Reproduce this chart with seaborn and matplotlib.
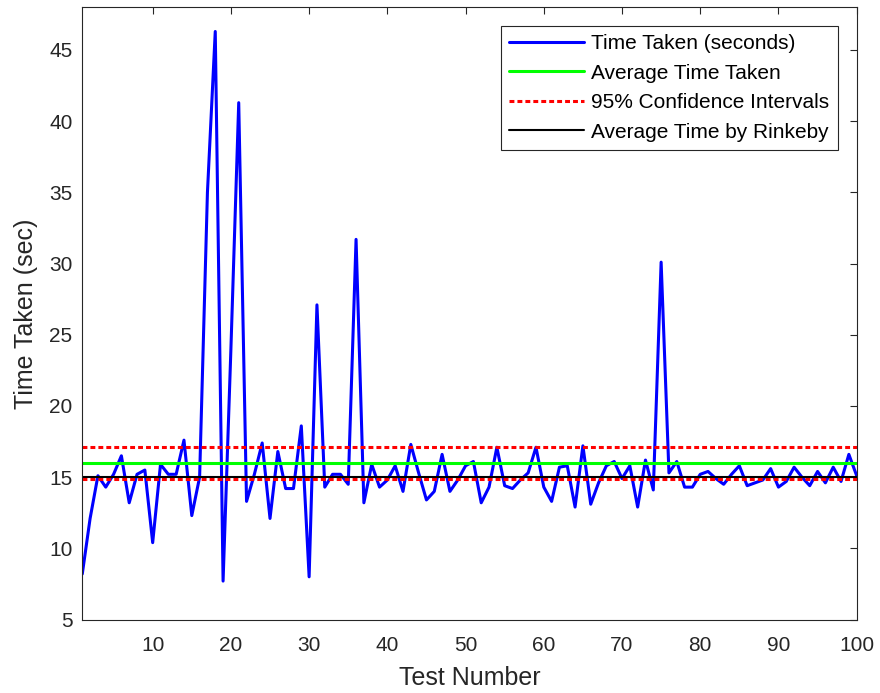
import numpy as np
import pandas as pd
import matplotlib
matplotlib.use("Agg")
import matplotlib.pyplot as plt
import seaborn as sns

# Time taken per test run
test_number = list(range(1, 101))
time_taken = [
    8.2, 12.1, 15.1, 14.3, 15.2, 16.5, 13.2, 15.2, 15.5, 10.4,
    15.9, 15.2, 15.2, 17.6, 12.3, 15.0, 35.0, 46.3, 7.7, 24.0,
    41.3, 13.3, 15.2, 17.4, 12.1, 16.8, 14.2, 14.2, 18.6, 8.0,
    27.1, 14.3, 15.2, 15.2, 14.5, 31.7, 13.2, 15.9, 14.3, 14.8,
    15.8, 14.0, 17.3, 15.3, 13.4, 14.0, 16.6, 14.0, 14.8, 15.8,
    16.1, 13.2, 14.3, 17.1, 14.4, 14.2, 14.8, 15.3, 17.1, 14.3,
    13.3, 15.7, 15.8, 12.9, 17.2, 13.1, 14.6, 15.8, 16.1, 14.9,
    15.8, 12.9, 16.2, 14.1, 30.1, 15.3, 16.1, 14.3, 14.3, 15.2,
    15.4, 14.9, 14.5, 15.2, 15.8, 14.4, 14.6, 14.8, 15.6, 14.3,
    14.7, 15.7, 15.0, 14.4, 15.4, 14.6, 15.7, 14.7, 16.6, 15.1,
]

avg_time = 15.98
ci_low, ci_high = 14.88, 17.1
rinkeby_avg = 15.0

df = pd.DataFrame({"Test Number": test_number, "Time Taken": time_taken})

sns.set_style("white")
plt.rcParams["font.family"] = ["Liberation Sans", "DejaVu Sans"]
text_col = "#262626"

fig = plt.figure(figsize=(8.8, 6.93), dpi=100)
ax = fig.add_axes([0.0935, 0.106, 0.88, 0.8835])

sns.lineplot(data=df, x="Test Number", y="Time Taken", ax=ax,
             color="#0000ff", linewidth=2.2, label="Time Taken (seconds)")
ax.axhline(avg_time, color="#00ff00", linewidth=2.2, label="Average Time Taken")
ax.axhline(ci_high, color="#ff0000", linewidth=2.2, linestyle=(0, (1.6, 1.0)),
           label="95% Confidence Intervals")
ax.axhline(ci_low, color="#ff0000", linewidth=2.2, linestyle=(0, (1.6, 1.0)))
ax.axhline(rinkeby_avg, color="black", linewidth=1.5, label="Average Time by Rinkeby")

ax.set_xlim(1, 100)
ax.set_ylim(5, 48)
ax.set_xticks(range(10, 101, 10))
ax.set_yticks(range(5, 46, 5))

ax.set_xlabel("Test Number", fontsize=18, color=text_col, labelpad=8)
ax.set_ylabel("Time Taken (sec)", fontsize=18, color=text_col, labelpad=8)
ax.tick_params(direction="in", length=5, width=0.8, top=True, right=True,
               labelsize=15, colors=text_col)
ax.tick_params(axis="x", pad=12)
ax.tick_params(axis="y", pad=7)
for s in ax.spines.values():
    s.set_color(text_col)
    s.set_linewidth(0.8)
    s.set_visible(True)

leg = ax.legend(loc="upper right", fontsize=15, frameon=True, fancybox=False,
                framealpha=1, edgecolor=text_col, handlelength=3.6,
                handletextpad=0.35, borderaxespad=0.9, borderpad=0.4,
                labelspacing=0.5)
leg.get_frame().set_linewidth(0.8)
for t in leg.get_texts():
    t.set_color("black")

fig.savefig("out.png", dpi=100)
